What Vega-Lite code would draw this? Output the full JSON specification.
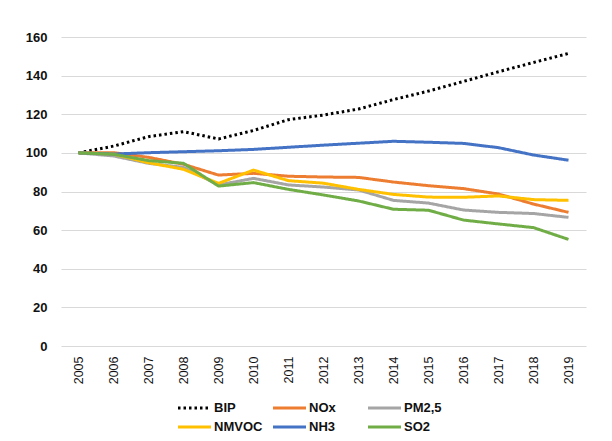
{
  "$schema": "https://vega.github.io/schema/vega-lite/v6.json",
  "width": 525,
  "height": 309,
  "autosize": "none",
  "padding": {"left": 61, "top": 37, "right": 26, "bottom": 95},
  "background": "white",
  "config": {
    "view": {"stroke": null},
    "font": "Liberation Sans"
  },
  "data": {
    "values": [
      {"year": "2005", "series": "BIP", "value": 100},
      {"year": "2006", "series": "BIP", "value": 103.5},
      {"year": "2007", "series": "BIP", "value": 108.4},
      {"year": "2008", "series": "BIP", "value": 111},
      {"year": "2009", "series": "BIP", "value": 107.2},
      {"year": "2010", "series": "BIP", "value": 111.6},
      {"year": "2011", "series": "BIP", "value": 117.2},
      {"year": "2012", "series": "BIP", "value": 119.6},
      {"year": "2013", "series": "BIP", "value": 122.7},
      {"year": "2014", "series": "BIP", "value": 127.6},
      {"year": "2015", "series": "BIP", "value": 132},
      {"year": "2016", "series": "BIP", "value": 137},
      {"year": "2017", "series": "BIP", "value": 142},
      {"year": "2018", "series": "BIP", "value": 146.8},
      {"year": "2019", "series": "BIP", "value": 151.5},

      {"year": "2005", "series": "NOx", "value": 100},
      {"year": "2006", "series": "NOx", "value": 100.1},
      {"year": "2007", "series": "NOx", "value": 97.7},
      {"year": "2008", "series": "NOx", "value": 94.1},
      {"year": "2009", "series": "NOx", "value": 88.5},
      {"year": "2010", "series": "NOx", "value": 89.4},
      {"year": "2011", "series": "NOx", "value": 87.9},
      {"year": "2012", "series": "NOx", "value": 87.5},
      {"year": "2013", "series": "NOx", "value": 87.3},
      {"year": "2014", "series": "NOx", "value": 84.9},
      {"year": "2015", "series": "NOx", "value": 83},
      {"year": "2016", "series": "NOx", "value": 81.5},
      {"year": "2017", "series": "NOx", "value": 78.7},
      {"year": "2018", "series": "NOx", "value": 73.5},
      {"year": "2019", "series": "NOx", "value": 69.2},

      {"year": "2005", "series": "PM2,5", "value": 100},
      {"year": "2006", "series": "PM2,5", "value": 98.4},
      {"year": "2007", "series": "PM2,5", "value": 94.6},
      {"year": "2008", "series": "PM2,5", "value": 92.5},
      {"year": "2009", "series": "PM2,5", "value": 83.4},
      {"year": "2010", "series": "PM2,5", "value": 86.8},
      {"year": "2011", "series": "PM2,5", "value": 83.4},
      {"year": "2012", "series": "PM2,5", "value": 82.3},
      {"year": "2013", "series": "PM2,5", "value": 80.8},
      {"year": "2014", "series": "PM2,5", "value": 75.4},
      {"year": "2015", "series": "PM2,5", "value": 74},
      {"year": "2016", "series": "PM2,5", "value": 70.4},
      {"year": "2017", "series": "PM2,5", "value": 69.2},
      {"year": "2018", "series": "PM2,5", "value": 68.6},
      {"year": "2019", "series": "PM2,5", "value": 66.6},

      {"year": "2005", "series": "NMVOC", "value": 100},
      {"year": "2006", "series": "NMVOC", "value": 99.4},
      {"year": "2007", "series": "NMVOC", "value": 94.9},
      {"year": "2008", "series": "NMVOC", "value": 91.5},
      {"year": "2009", "series": "NMVOC", "value": 84.2},
      {"year": "2010", "series": "NMVOC", "value": 91.1},
      {"year": "2011", "series": "NMVOC", "value": 85.6},
      {"year": "2012", "series": "NMVOC", "value": 84.3},
      {"year": "2013", "series": "NMVOC", "value": 81.1},
      {"year": "2014", "series": "NMVOC", "value": 78.5},
      {"year": "2015", "series": "NMVOC", "value": 77.1},
      {"year": "2016", "series": "NMVOC", "value": 77},
      {"year": "2017", "series": "NMVOC", "value": 77.7},
      {"year": "2018", "series": "NMVOC", "value": 75.8},
      {"year": "2019", "series": "NMVOC", "value": 75.4},

      {"year": "2005", "series": "NH3", "value": 100},
      {"year": "2006", "series": "NH3", "value": 99.4},
      {"year": "2007", "series": "NH3", "value": 100.1},
      {"year": "2008", "series": "NH3", "value": 100.6},
      {"year": "2009", "series": "NH3", "value": 101.1},
      {"year": "2010", "series": "NH3", "value": 101.8},
      {"year": "2011", "series": "NH3", "value": 102.9},
      {"year": "2012", "series": "NH3", "value": 104},
      {"year": "2013", "series": "NH3", "value": 105},
      {"year": "2014", "series": "NH3", "value": 106},
      {"year": "2015", "series": "NH3", "value": 105.5},
      {"year": "2016", "series": "NH3", "value": 104.9},
      {"year": "2017", "series": "NH3", "value": 102.7},
      {"year": "2018", "series": "NH3", "value": 98.9},
      {"year": "2019", "series": "NH3", "value": 96.2},

      {"year": "2005", "series": "SO2", "value": 100},
      {"year": "2006", "series": "SO2", "value": 99.3},
      {"year": "2007", "series": "SO2", "value": 96},
      {"year": "2008", "series": "SO2", "value": 94.6},
      {"year": "2009", "series": "SO2", "value": 82.8},
      {"year": "2010", "series": "SO2", "value": 84.6},
      {"year": "2011", "series": "SO2", "value": 81.1},
      {"year": "2012", "series": "SO2", "value": 78.2},
      {"year": "2013", "series": "SO2", "value": 75.1},
      {"year": "2014", "series": "SO2", "value": 70.8},
      {"year": "2015", "series": "SO2", "value": 70.3},
      {"year": "2016", "series": "SO2", "value": 65.2},
      {"year": "2017", "series": "SO2", "value": 63.2},
      {"year": "2018", "series": "SO2", "value": 61.3},
      {"year": "2019", "series": "SO2", "value": 55.2}
    ]
  },
  "mark": {"type": "line", "strokeWidth": 3, "strokeJoin": "round"},
  "encoding": {
    "x": {
      "field": "year",
      "type": "ordinal",
      "scale": {"type": "point", "padding": 0.5},
      "axis": {
        "title": null,
        "labelAngle": -90,
        "labelAlign": "right",
        "labelBaseline": "middle",
        "labelPadding": 10,
        "labelFontSize": 12.5,
        "labelColor": "#111",
        "ticks": false,
        "domain": false,
        "grid": false
      }
    },
    "y": {
      "field": "value",
      "type": "quantitative",
      "scale": {"domain": [0, 160], "nice": false, "zero": true},
      "axis": {
        "title": null,
        "values": [0, 20, 40, 60, 80, 100, 120, 140, 160],
        "labelFontSize": 13,
        "labelFontWeight": "bold",
        "labelColor": "#111",
        "labelPadding": 14,
        "ticks": false,
        "domain": false,
        "gridColor": "#d9d9d9",
        "gridWidth": 1
      }
    },
    "color": {
      "field": "series",
      "type": "nominal",
      "scale": {
        "domain": ["BIP", "NMVOC", "NOx", "NH3", "PM2,5", "SO2"],
        "range": ["#000000", "#FFC000", "#ED7D31", "#4472C4", "#A5A5A5", "#70AD47"]
      },
      "legend": {
        "title": null,
        "orient": "none",
        "legendX": 110,
        "legendY": 364,
        "columns": 3,
        "gridAlign": "all",
        "columnPadding": 3,
        "rowPadding": 5,
        "padding": 0,
        "symbolType": "M0,0H6",
        "symbolSize": 121,
        "symbolStrokeWidth": 3,
        "labelFontSize": 13,
        "labelFontWeight": "bold",
        "labelColor": "#111",
        "labelOffset": 29
      }
    },
    "strokeDash": {
      "field": "series",
      "type": "nominal",
      "scale": {
        "domain": ["BIP", "NMVOC", "NOx", "NH3", "PM2,5", "SO2"],
        "range": [[2.5, 3], [1, 0], [1, 0], [1, 0], [1, 0], [1, 0]]
      },
      "legend": null
    }
  }
}
